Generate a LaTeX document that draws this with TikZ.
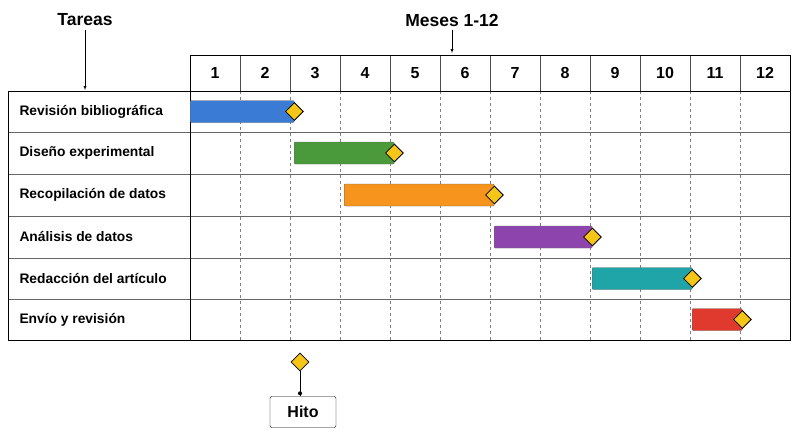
\documentclass[tikz,border=0pt]{standalone}
\usepackage{fontspec}
\setmainfont{Liberation Sans}
\usetikzlibrary{positioning,shapes.geometric}
\definecolor{cBlue}{HTML}{3A7BD5}
\definecolor{cGreen}{HTML}{4A9A3C}
\definecolor{cOrange}{HTML}{F7941D}
\definecolor{cPurple}{HTML}{8E44AD}
\definecolor{cTeal}{HTML}{1FA5A8}
\definecolor{cRed}{HTML}{E03A2F}
\definecolor{cYellow}{HTML}{F5C518}
\tikzset{
  task/.style={anchor=west,font=\fontsize{13.8}{16}\selectfont\bfseries},
  month/.style={font=\fontsize{16}{18}\selectfont\bfseries},
  bar/.style={draw=black!60,rounded corners=1pt,minimum height=22pt,inner sep=0pt,anchor=west},
  hito/.style={diamond,draw,thick,fill=cYellow,minimum size=18pt,inner sep=0pt},
  title/.style={font=\fontsize{17.5}{19}\selectfont\bfseries}
}
\begin{document}
\begin{tikzpicture}[x=1pt,y=-1pt]
      \useasboundingbox (0,0) rectangle (800,439);

      % grid
      \foreach \i in {1,...,11}
        \draw[gray,dashed] (190+50*\i,91) -- (190+50*\i,340);
      \foreach \i in {1,...,11}
        \draw[black!70] (190+50*\i,55) -- (190+50*\i,91);
      \foreach \y in {132,174,216,258,299}
        \draw[black!60] (8,\y) -- (790,\y);
      \draw (190,55) rectangle (790,340);
      \draw (8,91) rectangle (190,340);
      \draw (190,91) -- (790,91);
      \foreach \i in {1,...,12}
        \node[month] (M\i) at (165+50*\i,73) {\i};

      % tasks
      \node[task] (T1) at (16,111.5) {Revisión bibliográfica};
      \node[task] (T2) at (16,153) {Diseño experimental};
      \node[task] (T3) at (16,195) {Recopilación de datos};
      \node[task] (T4) at (16,237) {Análisis de datos};
      \node[task] (T5) at (16,278.5) {Redacción del artículo};
      \node[task] (T6) at (16,319.5) {Envío y revisión};

      % bars
      \node[bar,fill=cBlue,minimum width=104pt] (B1) at (190,111.5) {};
      \node[bar,fill=cGreen,minimum width=100pt] (B2) at (294,153) {};
      \node[bar,fill=cOrange,minimum width=150pt] (B3) at (344,195) {};
      \node[bar,fill=cPurple,minimum width=98pt] (B4) at (494,237) {};
      \node[bar,fill=cTeal,minimum width=100pt] (B5) at (592,278.5) {};
      \node[bar,fill=cRed,minimum width=50pt] (B6) at (692,319.5) {};
      \foreach \b in {1,...,6}
        \node[hito] (H\b) at (B\b.east) {};

      % titles
      \node[title] (Tareas) at (85,20) {Tareas};
      \node[title] (Meses) at (452,20) {Meses 1-12};
      \coordinate (TareasEnd) at (85,90);
      \coordinate (MesesEnd) at (452,53);
      \draw[-latex] (Tareas) -- (TareasEnd);
      \draw[-latex] (Meses) -- (MesesEnd);

      % legend
      \node[hito] (HL) at (300,362) {};
      \node[draw,rounded corners=2pt,minimum width=66pt,minimum height=31pt,font=\fontsize{16}{18}\selectfont\bfseries] (Hito) at (303,412) {Hito};
      \draw (HL) -- (Hito.north -| HL);
      \fill (Hito.north -| HL) ++(0,-3) circle (2pt);
\end{tikzpicture}
\end{document}
